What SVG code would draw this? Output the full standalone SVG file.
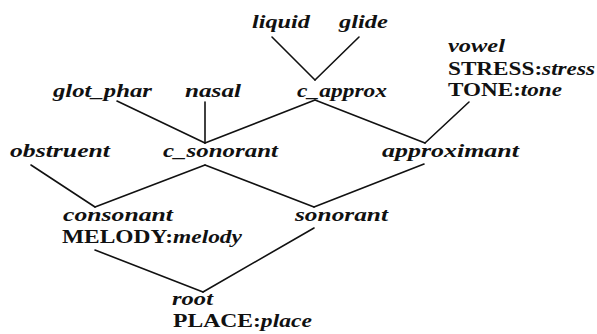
<svg xmlns="http://www.w3.org/2000/svg" width="597" height="334" viewBox="0 0 597 334">
<style>
text{font-family:"Liberation Serif","DejaVu Serif",serif;font-size:19px;fill:#111;font-weight:bold}
.i{font-style:italic}
.r{font-style:normal}
.e line{stroke:#111;stroke-width:1.6;stroke-linecap:round}
</style>
<rect width="597" height="334" fill="#fff"/>
<g class="e" id="connectors">
<line x1="272" y1="37" x2="315" y2="80"/>
<line x1="359" y1="37" x2="315" y2="80"/>
<line x1="117" y1="101" x2="205" y2="143"/>
<line x1="205" y1="102" x2="205" y2="143"/>
<line x1="315" y1="100" x2="205" y2="143"/>
<line x1="315" y1="100" x2="425" y2="143"/>
<line x1="469" y1="102" x2="425" y2="143"/>
<line x1="31" y1="165" x2="95" y2="207"/>
<line x1="205" y1="165" x2="95" y2="207"/>
<line x1="205" y1="165" x2="314" y2="207"/>
<line x1="424" y1="164" x2="314" y2="207"/>
<line x1="95" y1="250" x2="203" y2="292"/>
<line x1="314" y1="228" x2="203" y2="292"/>
</g>
<g id="liquid"><text class="i" x="252" y="28" textLength="58" lengthAdjust="spacingAndGlyphs">liquid</text></g>
<g id="glide"><text class="i" x="339" y="28" textLength="49" lengthAdjust="spacingAndGlyphs">glide</text></g>
<g id="vowel"><text class="i" x="448" y="52" textLength="57" lengthAdjust="spacingAndGlyphs">vowel</text>
<text x="448" y="75" textLength="147" lengthAdjust="spacingAndGlyphs"><tspan class="r">STRESS:</tspan><tspan class="i">stress</tspan></text>
<text x="448" y="96" textLength="114" lengthAdjust="spacingAndGlyphs"><tspan class="r">TONE:</tspan><tspan class="i">tone</tspan></text></g>
<g id="glot_phar"><text class="i" x="53" y="97" textLength="99" lengthAdjust="spacingAndGlyphs">glot_phar</text></g>
<g id="nasal"><text class="i" x="185" y="97" textLength="56" lengthAdjust="spacingAndGlyphs">nasal</text></g>
<g id="c_approx"><text class="i" x="297" y="97" textLength="90" lengthAdjust="spacingAndGlyphs">c_approx</text></g>
<g id="obstruent"><text class="i" x="10" y="157" textLength="100" lengthAdjust="spacingAndGlyphs">obstruent</text></g>
<g id="c_sonorant"><text class="i" x="163" y="157" textLength="115" lengthAdjust="spacingAndGlyphs">c_sonorant</text></g>
<g id="approximant"><text class="i" x="382" y="157" textLength="137" lengthAdjust="spacingAndGlyphs">approximant</text></g>
<g id="consonant"><text class="i" x="63" y="221" textLength="110" lengthAdjust="spacingAndGlyphs">consonant</text>
<text x="62" y="243" textLength="180" lengthAdjust="spacingAndGlyphs"><tspan class="r">MELODY:</tspan><tspan class="i">melody</tspan></text></g>
<g id="sonorant"><text class="i" x="295" y="221" textLength="93" lengthAdjust="spacingAndGlyphs">sonorant</text></g>
<g id="root"><text class="i" x="172" y="305" textLength="41" lengthAdjust="spacingAndGlyphs">root</text>
<text x="173" y="327" textLength="139" lengthAdjust="spacingAndGlyphs"><tspan class="r">PLACE:</tspan><tspan class="i">place</tspan></text></g>
</svg>
